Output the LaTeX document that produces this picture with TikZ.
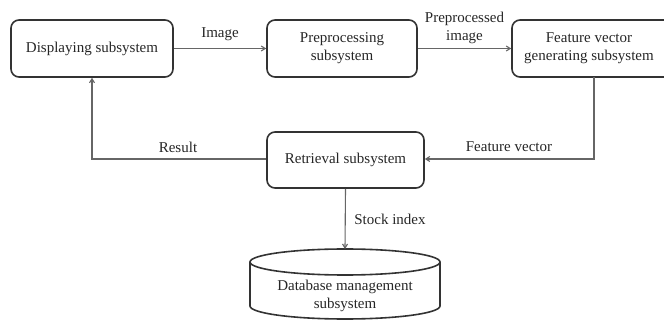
\documentclass[tikz,border=0pt]{standalone}
\usepackage{fontspec}
\setmainfont{Liberation Serif}
\usetikzlibrary{arrows.meta}
\definecolor{boxline}{HTML}{333333}
\definecolor{conline}{HTML}{666666}
\definecolor{txt}{HTML}{262626}
\begin{document}
\begin{tikzpicture}[x=1pt,y=-1pt,
  sysbox/.style={draw=boxline,line width=1.6pt,rounded corners=8pt,align=center,text=txt,inner sep=0pt},
  conn/.style={draw=conline,line width=1.1pt,-{Straight Barb[length=4pt,width=5pt]}},
  lbl/.style={text=txt,align=center,inner sep=0pt},
  every node/.style={font=\fontsize{15}{18}\selectfont}]
\useasboundingbox (0,0) rectangle (664,320);
\begin{scope}
\clip (0,0) rectangle (664,320);
\node[sysbox,minimum width=162pt,minimum height=57pt] (disp) at (92,48.5) {Displaying subsystem};
\node[sysbox,minimum width=150pt,minimum height=57pt] (pre) at (342,48.5) {Preprocessing\\subsystem};
\node[sysbox,minimum width=176pt,minimum height=57pt] (feat) at (600,48.5) {};
\node[lbl] (feattxt) at (589,48.5) {Feature vector\\generating subsystem};
\node[sysbox,minimum width=157pt,minimum height=56pt] (retr) at (345.5,160) {Retrieval subsystem};
% cylinder
\coordinate (dbtop) at (345,249);
\draw[boxline,line width=1.6pt] (250,262) -- (250,306) arc[start angle=180,end angle=360,x radius=95pt,y radius=13pt] -- (440,262);
\draw[boxline,line width=1.6pt,fill=white] (345,262) ellipse[x radius=95pt,y radius=13pt];
\node[lbl] (dbtxt) at (345,296) {Database management\\subsystem};
\end{scope}
\draw[conn] (disp.east) -- (pre.west) node[lbl,midway,above=7pt] (limg) {Image};
\draw[conn] (pre.east) -- (feat.west) node[lbl,midway,above=4pt] (lpre) {Preprocessed\\image};
\coordinate (fv) at (594,77);
\coordinate (fvc) at (594,159);
\draw[conn] (fv) -- (fvc) -- (retr.east|-fvc);
\node[lbl] (lfv) at (509,147) {Feature vector};
\coordinate (rc) at (92,159);
\draw[conn] (retr.west|-rc) -- (rc) -- (disp.south);
\node[lbl] (lres) at (178,147) {Result};
\draw[conn] (retr.south) -- (dbtop);
\node[lbl] (lstock) at (390,219) {Stock index};
\end{tikzpicture}
\end{document}
